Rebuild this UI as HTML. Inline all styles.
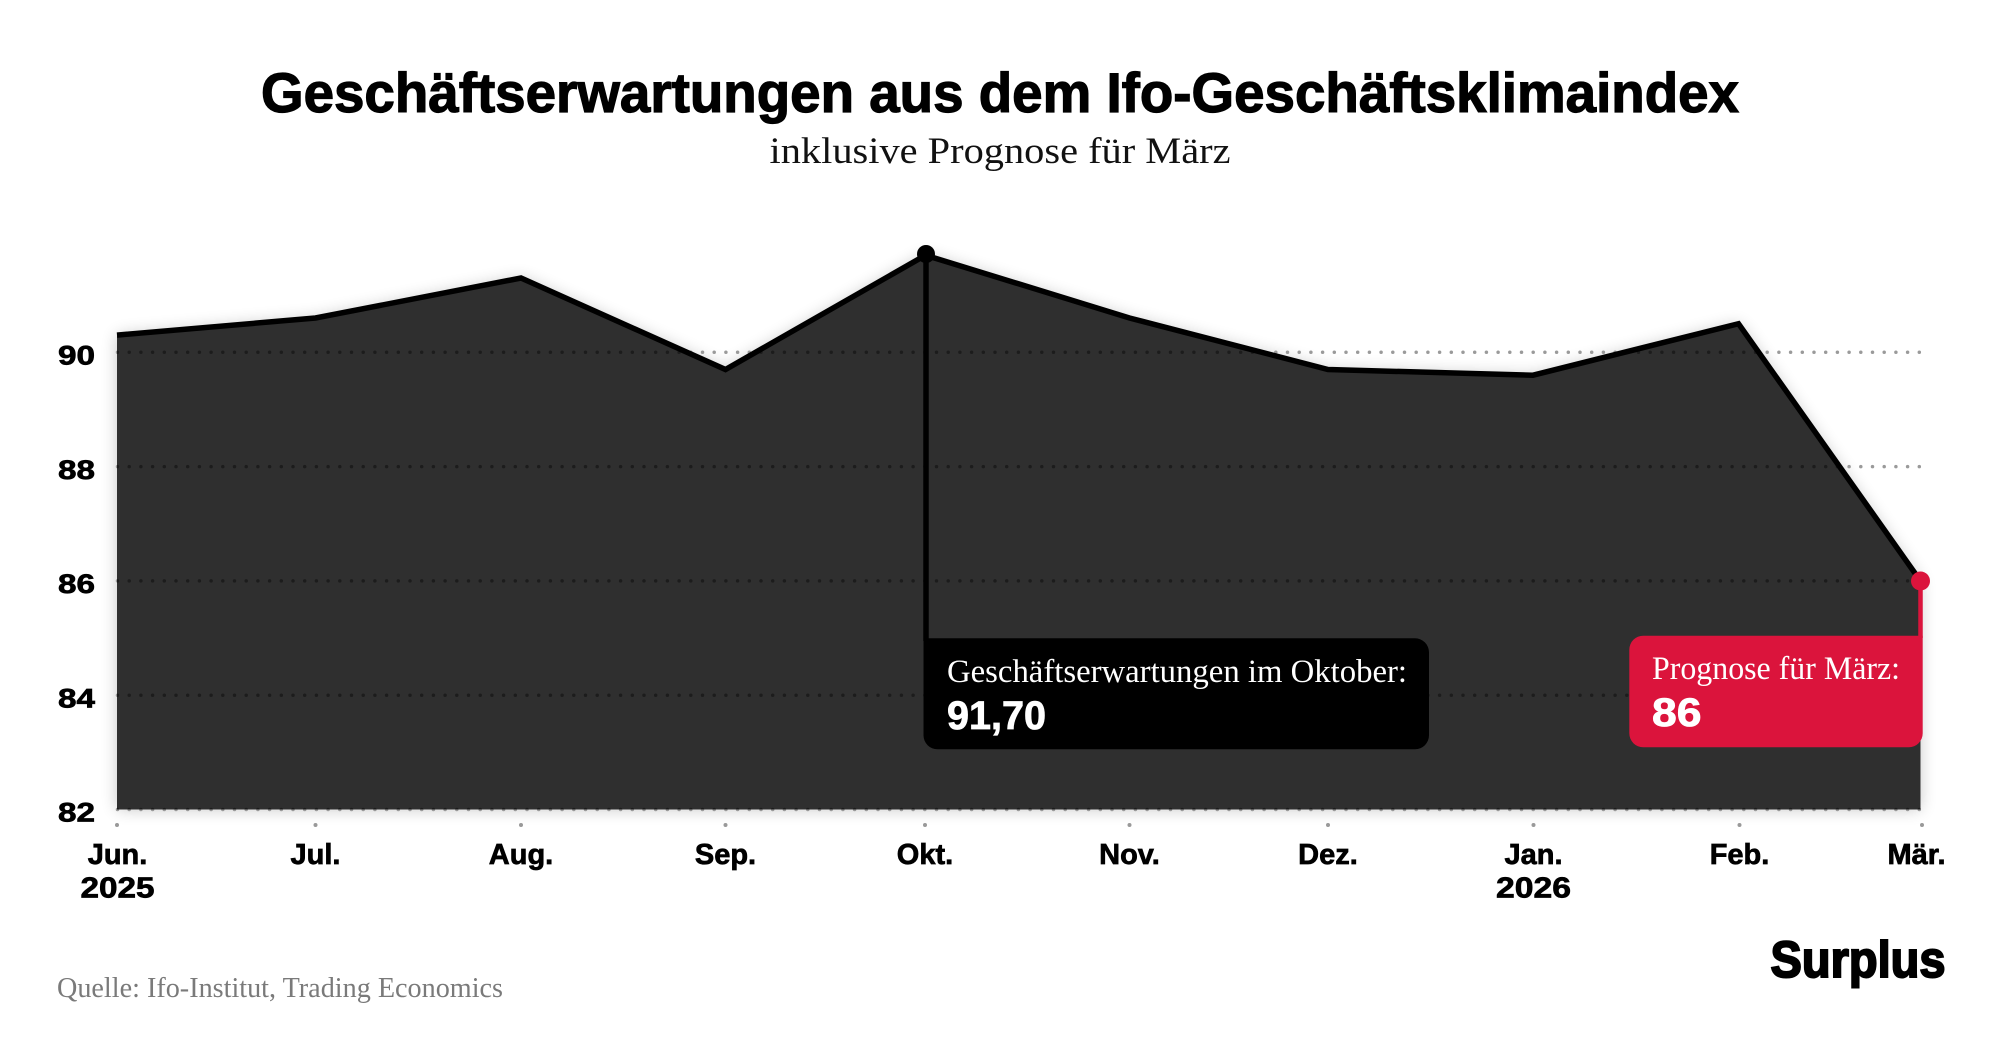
<!DOCTYPE html>
<html>
<head>
<meta charset="utf-8">
<style>
  html, body { margin: 0; padding: 0; background: #ffffff; }
  body { width: 2000px; height: 1042px; overflow: hidden; }
  svg { display: block; }
</style>
</head>
<body>
<svg width="2000" height="1042" viewBox="0 0 2000 1042" xmlns="http://www.w3.org/2000/svg">
  <defs>
    <filter id="sh" x="-5%" y="-20%" width="110%" height="140%">
      <feGaussianBlur stdDeviation="8"/>
    </filter>
  </defs>
  <rect width="2000" height="1042" fill="#ffffff"/>

  <!-- Title -->
  <text x="1000" y="112" text-anchor="middle" font-family="Liberation Sans, sans-serif" font-weight="700" font-size="56" fill="#000" stroke="#000" stroke-width="1.2" textLength="1478" lengthAdjust="spacingAndGlyphs">Geschäftserwartungen aus dem Ifo-Geschäftsklimaindex</text>
  <text x="1000" y="163" text-anchor="middle" font-family="Liberation Serif, serif" font-size="37" fill="#111" textLength="461" lengthAdjust="spacingAndGlyphs">inklusive Prognose für März</text>

  <!-- Shadow of area -->
  <path d="M117,809.5 L117,335.1 L315.5,318 L521,278 L725.5,369.5 L925.5,255.2 L1129.5,318 L1328,369.5 L1533,375.2 L1738.5,323.7 L1920.5,581 L1920.5,809.5 Z" fill="#000" opacity="0.22" filter="url(#sh)"/>
  <path d="M117,809.5 L117,335.1 L315.5,318 L521,278 L725.5,369.5 L925.5,255.2 L1129.5,318 L1328,369.5 L1533,375.2 L1738.5,323.7 L1920.5,581 L1920.5,809.5 Z" fill="#fff"/>

  <!-- Gridlines -->
  <g stroke="#9a9a9a" stroke-width="3.5" stroke-linecap="round" stroke-dasharray="0 11.7" fill="none">
    <line x1="117.5" y1="352.3" x2="1923" y2="352.3"/>
    <line x1="117.5" y1="466.6" x2="1923" y2="466.6"/>
    <line x1="117.5" y1="580.9" x2="1923" y2="580.9"/>
    <line x1="117.5" y1="695.2" x2="1923" y2="695.2"/>
    <line x1="117.5" y1="809.5" x2="1923" y2="809.5"/>
  </g>

  <!-- Area -->
  <path d="M117,809.5 L117,335.1 L315.5,318 L521,278 L725.5,369.5 L925.5,255.2 L1129.5,318 L1328,369.5 L1533,375.2 L1738.5,323.7 L1920.5,581 L1920.5,809.5 Z" fill="rgba(0,0,0,0.815)"/>

  <!-- Line -->
  <polyline points="117,335.1 315.5,318 521,278 725.5,369.5 925.5,255.2 1129.5,318 1328,369.5 1533,375.2 1738.5,323.7 1920.5,581" fill="none" stroke="#000" stroke-width="5.5" stroke-linejoin="miter"/>

  <!-- Oktober annotation -->
  <line x1="926" y1="255" x2="926" y2="641" stroke="#000" stroke-width="5.5"/>
  <circle cx="926" cy="254" r="9" fill="#000"/>
  <path d="M923.5,638.3 H1415 A14,14 0 0 1 1429,652.3 V735.3 A14,14 0 0 1 1415,749.3 H937.5 A14,14 0 0 1 923.5,735.3 Z" fill="#000"/>
  <text x="947" y="682" font-family="Liberation Serif, serif" font-size="33" fill="#fff" textLength="460" lengthAdjust="spacingAndGlyphs">Geschäftserwartungen im Oktober:</text>
  <text x="947" y="729" font-family="Liberation Sans, sans-serif" font-weight="700" font-size="40" fill="#fff" stroke="#fff" stroke-width="0.8" textLength="99" lengthAdjust="spacingAndGlyphs">91,70</text>

  <!-- März annotation -->
  <line x1="1920.5" y1="581" x2="1920.5" y2="638" stroke="#db143c" stroke-width="4.5"/>
  <circle cx="1920.5" cy="581" r="9.5" fill="#db143c"/>
  <path d="M1643.3,635.7 H1922.7 V733.3 A14,14 0 0 1 1908.7,747.3 H1643.3 A14,14 0 0 1 1629.3,733.3 V649.7 A14,14 0 0 1 1643.3,635.7 Z" fill="#db143c"/>
  <text x="1652" y="679" font-family="Liberation Serif, serif" font-size="33" fill="#fff" textLength="248" lengthAdjust="spacingAndGlyphs">Prognose für März:</text>
  <text x="1652" y="726" font-family="Liberation Sans, sans-serif" font-weight="700" font-size="40" fill="#fff" stroke="#fff" stroke-width="0.8" textLength="49.5" lengthAdjust="spacingAndGlyphs">86</text>

  <!-- Y labels -->
  <g font-family="Liberation Sans, sans-serif" font-weight="700" font-size="27" fill="#000" stroke="#000" stroke-width="0.7" text-anchor="end">
    <text x="95" y="364.5" textLength="37" lengthAdjust="spacingAndGlyphs">90</text>
    <text x="95" y="478.8" textLength="37" lengthAdjust="spacingAndGlyphs">88</text>
    <text x="95" y="593.1" textLength="37" lengthAdjust="spacingAndGlyphs">86</text>
    <text x="95" y="707.4" textLength="37" lengthAdjust="spacingAndGlyphs">84</text>
    <text x="95" y="821.7" textLength="37" lengthAdjust="spacingAndGlyphs">82</text>
  </g>

  <!-- Ticks -->
  <g fill="#999">
    <circle cx="117" cy="825" r="2"/>
    <circle cx="315.5" cy="825" r="2"/>
    <circle cx="521" cy="825" r="2"/>
    <circle cx="725.5" cy="825" r="2"/>
    <circle cx="925" cy="825" r="2"/>
    <circle cx="1129.5" cy="825" r="2"/>
    <circle cx="1328" cy="825" r="2"/>
    <circle cx="1533.5" cy="825" r="2"/>
    <circle cx="1739.5" cy="825" r="2"/>
    <circle cx="1922" cy="825" r="2"/>
  </g>

  <!-- X labels -->
  <g font-family="Liberation Sans, sans-serif" font-weight="700" font-size="29" fill="#000" stroke="#000" stroke-width="0.7" text-anchor="middle">
    <text x="117.5" y="864">Jun.</text>
    <text x="117.5" y="897.5" textLength="74" lengthAdjust="spacingAndGlyphs">2025</text>
    <text x="315.5" y="864">Jul.</text>
    <text x="521" y="864">Aug.</text>
    <text x="725.5" y="864">Sep.</text>
    <text x="925" y="864">Okt.</text>
    <text x="1129.5" y="864">Nov.</text>
    <text x="1328" y="864">Dez.</text>
    <text x="1533.5" y="864">Jan.</text>
    <text x="1533.5" y="897.5" textLength="75" lengthAdjust="spacingAndGlyphs">2026</text>
    <text x="1739.5" y="864">Feb.</text>
    <text x="1945.5" y="864" text-anchor="end">Mär.</text>
  </g>

  <!-- Source -->
  <text x="57" y="997" font-family="Liberation Serif, serif" font-size="29" fill="#7a7a7a" textLength="446" lengthAdjust="spacingAndGlyphs">Quelle: Ifo-Institut, Trading Economics</text>

  <!-- Logo -->
  <text x="1945.5" y="977" text-anchor="end" font-family="Liberation Sans, sans-serif" font-weight="700" font-size="51" fill="#000" stroke="#000" stroke-width="2" textLength="175" lengthAdjust="spacingAndGlyphs">Surplus</text>
</svg>
</body>
</html>
